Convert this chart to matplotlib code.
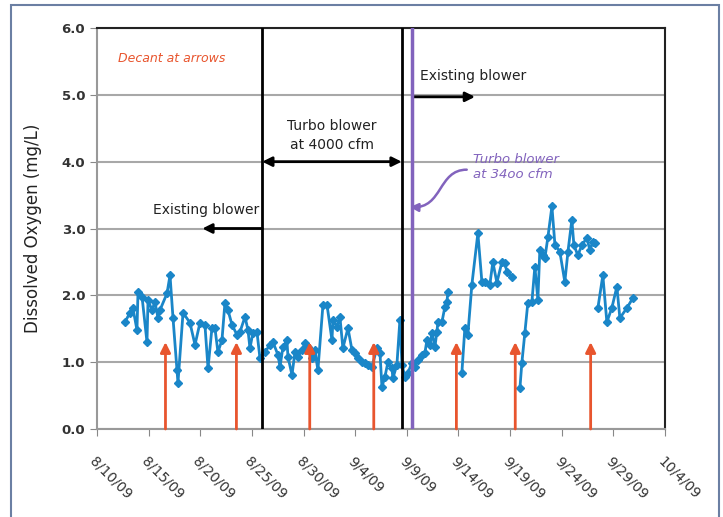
import numpy as np
import pandas as pd
import matplotlib
matplotlib.use("Agg")
import matplotlib.pyplot as plt
import matplotlib.dates as mdates
from matplotlib.patches import FancyArrowPatch, Rectangle
from matplotlib.path import Path

# ---- data (days after 8/10/09, DO in mg/L); NaN = gap in record ----
days = [2.71, 3.19, 3.48, 3.87, 3.97, 4.36, 4.84, 4.94, 5.32, 5.61, 5.91, 6.10,
        6.78, 7.07, 7.36, 7.74, 7.84, 8.33, 9.00, 9.49, 9.97, 10.45, 10.75, 11.13,
        11.42, 11.71, 12.10, 12.39, 12.68, 13.07, 13.55, 13.84, 14.33, 14.62, 14.81,
        15.10, 15.49, 15.78, 16.26, 16.75, 17.04, 17.52, 17.72, 18.01, 18.39, 18.49,
        18.88, 19.17, 19.46, 19.85, 20.14, 20.43, 20.81, 21.10, 21.39, 21.88, 22.27,
        22.75, 22.85, 23.23, 23.52, 23.81, 24.30, 24.69, 24.98, 25.27, 25.65, 25.94,
        26.23, 26.62, 27.11, 27.40, 27.59, 27.88, 28.17, 28.56, 28.65, 29.04, 29.33,
        29.53, 29.82, 30.11, 30.49, 30.78, 31.07, 31.46, 31.75, 31.95, 32.24, 32.43,
        32.72, 32.91, 33.01, 33.40, 33.69, 33.88, 33.98, 34.60,
        35.33, 35.62, 35.91, 36.30, 36.88, 37.27, 37.56, 38.04, 38.33, 38.72, 39.21,
        39.50, 39.69, 40.17, 40.55,
        40.95, 41.14, 41.43, 41.72, 42.11, 42.40, 42.69, 42.88, 43.18, 43.37, 43.66,
        44.05, 44.34, 44.82, 45.30, 45.60, 45.98, 46.18, 46.56, 46.95, 47.43, 47.72,
        48.01, 48.21, 48.35,
        48.50, 48.98, 49.37, 49.85, 50.34, 50.63, 51.31, 51.89]
do_mg_l = [1.60, 1.74, 1.81, 1.48, 2.05, 1.98, 1.30, 1.93, 1.78, 1.90, 1.66, 1.78,
           2.03, 2.30, 1.66, 0.88, 0.69, 1.74, 1.59, 1.26, 1.59, 1.56, 0.91, 1.51,
           1.51, 1.15, 1.33, 1.89, 1.78, 1.56, 1.41, 1.45, 1.68, 1.48, 1.21,
           1.44, 1.45, 1.06, 1.15, 1.26, 1.30, 1.11, 0.93, 1.23, 1.33, 1.08,
           0.81, 1.15, 1.08, 1.18, 1.29, 1.23, 1.06, 1.18, 0.88, 1.86, 1.86,
           1.33, 1.63, 1.53, 1.68, 1.21, 1.51, 1.18, 1.14, 1.06, 1.00, 0.99,
           0.96, 0.93, 1.21, 1.14, 0.63, 0.78, 1.00, 0.91, 0.76, 0.96, 1.63,
           0.96, 0.78, 0.84, 0.99, 0.93, 1.03, 1.11, 1.14, 1.33, 1.26, 1.44,
           1.23, 1.45, 1.60, 1.60, 1.83, 1.90, 2.05, np.nan,
           0.84, 1.51, 1.41, 2.16, 2.93, 2.20, 2.20, 2.16, 2.50, 2.19, 2.50,
           2.48, 2.35, 2.28, np.nan,
           0.61, 0.99, 1.44, 1.89, 1.90, 2.43, 1.93, 2.68, 2.60, 2.56, 2.87,
           3.33, 2.76, 2.65, 2.20, 2.65, 3.13, 2.75, 2.60, 2.75, 2.86, 2.68,
           2.80, 2.78, np.nan,
           1.81, 2.30, 1.60, 1.81, 2.13, 1.66, 1.81, 1.96]

decant_days = [6.63, 13.5, 20.6, 26.8, 34.8, 40.5, 47.8]
turbo_4000_start = 16.0
turbo_4000_end = 29.5
turbo_3400_start = 30.55

tick_days = [0, 5, 10, 15, 20, 25, 30, 35, 40, 45, 50, 55]
tick_labels = ["8/10/09", "8/15/09", "8/20/09", "8/25/09", "8/30/09", "9/4/09",
               "9/9/09", "9/14/09", "9/19/09", "9/24/09", "9/29/09", "10/4/09"]
y_ticks = [0.0, 1.0, 2.0, 3.0, 4.0, 5.0, 6.0]

start = pd.Timestamp("2009-08-10")
def to_date(d):
    return mdates.date2num(start + pd.to_timedelta(np.asarray(d, dtype=float), unit="D"))

fig = plt.figure(figsize=(7.23, 5.17), dpi=100)
ax = fig.add_axes([97/723, 1 - 429/517, (665-97)/723, (429-28)/517])

# frame around the whole figure
fig.patches.append(Rectangle((11/723, -0.05), (719-11)/723, 1.05 - 5/517,
                             transform=fig.transFigure, fill=False,
                             edgecolor="#6b7fa3", lw=1.5))

blue = "#1a86c8"
red = "#e8552e"
purple = "#8263bd"

ax.plot(to_date(days), do_mg_l, color=blue, lw=2, marker="D", ms=4, zorder=3)

ax.set_xlim(to_date(0), to_date(55))
ax.set_ylim(0, 6)
ax.set_yticks(y_ticks)
ax.set_yticklabels([f"{v:.1f}" for v in y_ticks], fontsize=9.5, fontweight="bold",
                   color="#333333")
ax.set_xticks(to_date(tick_days))
ax.set_xticklabels(tick_labels, rotation=-45, ha="left", va="top",
                   rotation_mode="anchor", fontsize=10, color="#333333")
ax.tick_params(axis="x", pad=13, length=5, color="#888888")
ax.tick_params(axis="y", length=5, color="#888888")
ax.grid(axis="y", color="#a8a8a8", lw=1.5)
ax.set_axisbelow(True)
for s in ["left", "bottom"]:
    ax.spines[s].set_color("#999999")
    ax.spines[s].set_linewidth(1.5)
for s in ["top", "right"]:
    ax.spines[s].set_color("#222222")
    ax.spines[s].set_linewidth(1.5)
ax.set_ylabel("Dissolved Oxygen (mg/L)", fontsize=12, color="#222222", labelpad=14)

# blower change lines
ax.axvline(to_date(turbo_4000_start), color="black", lw=2, zorder=4)
ax.axvline(to_date(turbo_4000_end), color="black", lw=2, zorder=4)
ax.axvline(to_date(turbo_3400_start), color=purple, lw=2.5, zorder=4)

# decant arrows
for d in decant_days:
    ax.annotate("", xy=(to_date(d), 1.3), xytext=(to_date(d), 0.0),
                arrowprops=dict(arrowstyle="-|>", color=red, lw=2,
                                mutation_scale=15, shrinkA=0, shrinkB=0),
                zorder=5)

ax.text(to_date(2.0), 5.55, "Decant at arrows", color=red, fontsize=9,
        style="italic", va="center")

# existing blower (left)
ax.annotate("", xy=(to_date(10.2), 3.0), xytext=(to_date(turbo_4000_start), 3.0),
            arrowprops=dict(arrowstyle="-|>", color="black", lw=2,
                            mutation_scale=14, shrinkA=0, shrinkB=0))
ax.text(to_date(10.6), 3.27, "Existing blower", fontsize=10, ha="center",
        va="center", color="#222222")

# turbo blower 4000 cfm
ax.annotate("", xy=(to_date(turbo_4000_start), 4.0), xytext=(to_date(turbo_4000_end), 4.0),
            arrowprops=dict(arrowstyle="<|-|>", color="black", lw=2,
                            mutation_scale=14, shrinkA=0, shrinkB=0))
ax.text(to_date(22.75), 4.39, "Turbo blower\nat 4000 cfm", fontsize=10,
        ha="center", va="center", color="#222222", linespacing=1.5)

# existing blower (right)
ax.annotate("", xy=(to_date(36.6), 4.97), xytext=(to_date(turbo_3400_start), 4.97),
            arrowprops=dict(arrowstyle="-|>", color="black", lw=2,
                            mutation_scale=14, shrinkA=0, shrinkB=0))
ax.text(to_date(31.3), 5.28, "Existing blower", fontsize=10, ha="left",
        va="center", color="#222222")

# turbo blower 3400 cfm (purple)
ax.text(to_date(36.4), 3.92, "Turbo blower\nat 34oo cfm", fontsize=9.5,
        style="italic", ha="left", va="center", color=purple, linespacing=1.2)
p0 = (to_date(35.8), 3.88)
verts = [p0, (to_date(33.0), 3.88), (to_date(33.5), 3.30), (to_date(30.3), 3.32)]
curve = Path(verts, [Path.MOVETO, Path.CURVE4, Path.CURVE4, Path.CURVE4])
ax.add_patch(FancyArrowPatch(path=curve, arrowstyle="-|>", color=purple, lw=1.8,
                             mutation_scale=12, zorder=6))

fig.savefig("out.png", dpi=100)
